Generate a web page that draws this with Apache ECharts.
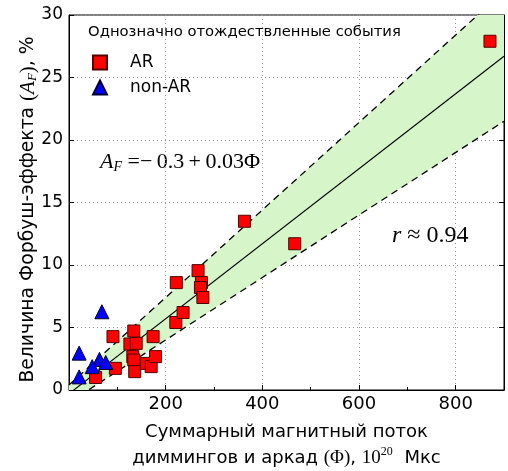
<!DOCTYPE html>
<html><head><meta charset="utf-8">
<script src="https://cdn.jsdelivr.net/npm/echarts@6/dist/echarts.min.js"></script>
<style>html,body{margin:0;padding:0;background:#fff}#c{width:508px;height:471px}</style>
</head><body><div id="c"></div>
<script>
// AR events: total magnetic flux (1e20 Mx) and Forbush effect magnitude (%)
var arPhi = [55, 96, 91, 134, 126, 139, 132, 134, 136, 174, 160, 170, 179, 221, 236, 222, 267, 274, 272, 277, 363, 467, 871];
var arA   = [1.0, 1.73, 4.27, 4.72, 3.68, 3.73, 2.67, 2.4, 1.47, 4.27, 2.13, 1.87, 2.67, 5.4, 6.2, 8.59, 9.55, 8.6, 8.2, 7.4, 13.5, 11.7, 27.9];
// non-AR events
var nonArPhi = [68, 21, 63, 76, 48, 21];
var nonArA   = [6.26, 2.95, 2.45, 2.2, 1.87, 1.05];
// regression line and band, endpoints read at phiEnds
var phiEnds = [0, 900];
var fitLine = [-0.3, 26.7];
var upperBand = [0.4, 31.9];
var lowerBand = [-1.0, 21.5];
var xTicks = [200, 400, 600, 800];
var yTicks = [0, 5, 10, 15, 20, 25, 30];

function pairs(xs, ys){ return xs.map(function(x,i){ return [x, ys[i]]; }); }

var FONT = 'DejaVu Sans';
var MATH = 'Liberation Serif';
var chart = echarts.init(document.getElementById('c'));
var bandPoly = [[phiEnds[0], lowerBand[0]], [phiEnds[1], lowerBand[1]], [phiEnds[1], upperBand[1]], [phiEnds[0], upperBand[0]]];

var option = {
  animation: false,
  backgroundColor: '#fff',
  grid: {left: 69, right: 4, top: 15, bottom: 81, show: true, borderColor: '#000', borderWidth: 1,
    containLabel: false, outerBoundsMode: 'none'},
  xAxis: [{
    type: 'value', min: 0, max: 900, interval: 200,
    axisLine: {show: true, lineStyle: {color: '#000'}},
    axisTick: {show: true, inside: true, length: 5, lineStyle: {color: '#000'}},
    minorTick: {show: true, splitNumber: 2, length: 3, lineStyle: {color: '#000'}},
    splitLine: {show: true, lineStyle: {color: '#9a9a9a', type: [1, 3], width: 1}},
    axisLabel: {color: '#000', fontFamily: FONT, fontSize: 18, margin: 5, showMaxLabel: false,
      formatter: function(v){ return xTicks.indexOf(v) >= 0 ? String(v) : ''; }},
    name: '{t|Суммарный магнитный поток}\n{t|диммингов и аркад }{m|(Φ)}{t|, }{m|10}{sup|20}{t| Мкс}',
    nameLocation: 'middle', nameGap: 29,
    nameTextStyle: {color: '#000', lineHeight: 26, rich: {
      t: {fontFamily: FONT, fontSize: 18, color: '#000', lineHeight: 26},
      m: {fontFamily: MATH, fontSize: 19, color: '#000', lineHeight: 26},
      sup: {fontFamily: MATH, fontSize: 12, color: '#000', lineHeight: 26, padding: [0, 6, 12, 0]}
    }}
  }],
  yAxis: [{
    type: 'value', min: 0, max: 30, interval: 5,
    axisLine: {show: true, lineStyle: {color: '#000'}},
    axisTick: {show: true, inside: true, length: 5, lineStyle: {color: '#000'}},
    splitLine: {show: true, lineStyle: {color: '#9a9a9a', type: [1, 3], width: 1}},
    axisLabel: {color: '#000', fontFamily: FONT, fontSize: 17, margin: 6},
    name: '{t|Величина Форбуш-эффекта }{m|(}{i|A}{s|F}{m|)}{t|, %}',
    nameLocation: 'middle', nameGap: 30, nameRotate: 90, nameMoveOverlap: false,
    nameTextStyle: {color: '#000', padding: [0, 14, 0, 0], rich: {
      t: {fontFamily: FONT, fontSize: 18.8, color: '#000'},
      m: {fontFamily: MATH, fontSize: 21, color: '#000'},
      i: {fontFamily: MATH, fontStyle: 'italic', fontSize: 21, color: '#000'},
      s: {fontFamily: MATH, fontStyle: 'italic', fontSize: 13, color: '#000', padding: [9, 0, 0, 0]}
    }}
  }, {
    type: 'value', min: 0, max: 30, interval: 5, position: 'right',
    axisLine: {show: true, lineStyle: {color: '#000'}},
    axisTick: {show: true, inside: true, length: 5, lineStyle: {color: '#000'}},
    axisLabel: {show: false}, splitLine: {show: false}
  }],
  legend: {
    orient: 'vertical', left: 87, top: 49, itemGap: 8, itemWidth: 14, itemHeight: 14,
    textStyle: {fontFamily: FONT, fontSize: 17, color: '#000', padding: [0, 0, 0, 18]},
    data: [{name: 'AR', icon: 'rect'}, {name: 'non-AR', icon: 'triangle'}]
  },
  graphic: [
    {type: 'text', left: 88, top: 25, style: {text: 'Однозначно отождествленные события', font: '14.8px "DejaVu Sans"', fill: '#000'}},
    {type: 'text', left: 100, top: 151, style: {
      text: '{i|A}{s|F}{m| =\u2212\u20090.3\u2009+\u20090.03Φ}',
      rich: {
        i: {fontFamily: MATH, fontStyle: 'italic', fontSize: 22, fill: '#000'},
        s: {fontFamily: MATH, fontStyle: 'italic', fontSize: 14, fill: '#000', padding: [10, 0, 0, 0]},
        m: {fontFamily: MATH, fontSize: 22, fill: '#000'}
      }}},
    {type: 'text', left: 392, top: 224, style: {
      text: '{i|r}{m| ≈ 0.94}',
      rich: {
        i: {fontFamily: MATH, fontStyle: 'italic', fontSize: 24, fill: '#000'},
        m: {fontFamily: MATH, fontSize: 24, fill: '#000'}
      }}}
  ],
  series: [
    {
      type: 'custom', name: 'band', clip: true, silent: true, z: 1,
      data: [0],
      renderItem: function(params, api){
        var pts = bandPoly.map(function(p){ return api.coord(p); });
        return {type: 'polygon', shape: {points: pts}, style: {fill: '#d6f5c8', stroke: null}};
      }
    },
    {type: 'line', name: 'upper', data: pairs(phiEnds, upperBand), symbol: 'none', clip: true, z: 2,
      lineStyle: {color: '#000', width: 1.3, type: [7, 5]}},
    {type: 'line', name: 'lower', data: pairs(phiEnds, lowerBand), symbol: 'none', clip: true, z: 2,
      lineStyle: {color: '#000', width: 1.3, type: [7, 5]}},
    {type: 'line', name: 'fit', data: pairs(phiEnds, fitLine), symbol: 'none', clip: true, z: 2,
      lineStyle: {color: '#000', width: 1.1}},
    {type: 'scatter', name: 'AR', data: pairs(arPhi, arA), symbol: 'rect', symbolSize: 12, z: 5,
      itemStyle: {color: '#ff0000', borderColor: '#550000', borderWidth: 1, opacity: 1}},
    {type: 'scatter', name: 'non-AR', data: pairs(nonArPhi, nonArA), symbol: 'triangle', symbolSize: 14, z: 5,
      itemStyle: {color: '#0000ff', borderColor: '#000033', borderWidth: 1, opacity: 1}}
  ]
};
chart.setOption(option);
</script></body></html>
